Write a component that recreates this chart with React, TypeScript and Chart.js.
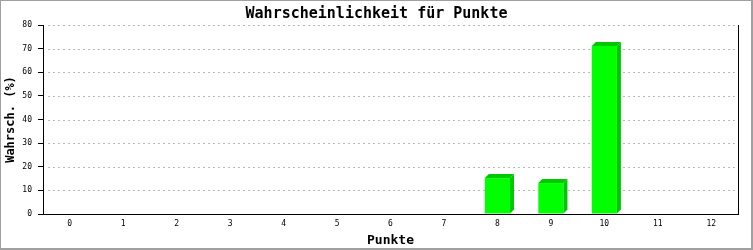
import React, { useEffect, useRef } from "react";
import { Chart, registerables } from "chart.js";

Chart.register(...registerables);

const categories = ["0", "1", "2", "3", "4", "5", "6", "7", "8", "9", "10", "11", "12"];
const probabilities = [0, 0, 0, 0, 0, 0, 0, 0, 15.2, 13.1, 71.1, 0, 0];
const yTicks = [10, 20, 30, 40, 50, 60, 70, 80];
const chartTitle = "Wahrscheinlichkeit für Punkte";
const xTitle = "Punkte";
const yTitle = "Wahrsch. (%)";

const MONO = "'DejaVu Sans Mono', 'Liberation Mono', monospace";

const framePlugin = {
  id: "frame",
  beforeDraw(chart: any) {
    const { ctx, width, height } = chart;
    ctx.save();
    ctx.fillStyle = "#ffffff";
    ctx.fillRect(0, 0, width, height);
    ctx.fillStyle = "#a0a0a0";
    ctx.fillRect(0, 0, width, 1);
    ctx.fillRect(0, 0, 1, height);
    ctx.fillRect(width - 2, 0, 2, height);
    ctx.fillRect(0, height - 2, width, 2);
    ctx.fillStyle = "#000000";
    ctx.font = `bold 15px ${MONO}`;
    ctx.textAlign = "center";
    ctx.textBaseline = "middle";
    ctx.fillText(chartTitle, width / 2, 14);
    ctx.restore();
  },
  beforeDatasetsDraw(chart: any) {
    const { ctx, chartArea } = chart;
    const y = chart.scales.y;
    ctx.save();
    ctx.strokeStyle = "#b8b8b8";
    ctx.lineWidth = 1;
    ctx.setLineDash([2, 3]);
    yTicks.forEach((v) => {
      const py = Math.round(y.getPixelForValue(v)) + 0.5;
      ctx.beginPath();
      ctx.moveTo(chartArea.left + 5, py);
      ctx.lineTo(chartArea.right, py);
      ctx.stroke();
    });
    ctx.restore();
  },
  afterDraw(chart: any) {
    const { ctx, chartArea } = chart;
    ctx.save();
    ctx.strokeStyle = "#000000";
    ctx.lineWidth = 1;
    ctx.beginPath();
    const x = Math.round(chartArea.right) + 0.5;
    ctx.moveTo(x, chartArea.top);
    ctx.lineTo(x, chartArea.bottom + 1);
    ctx.stroke();
    ctx.restore();
  },
};

const bar3dPlugin = {
  id: "bar3d",
  afterDatasetsDraw(chart: any) {
    const { ctx } = chart;
    const meta = chart.getDatasetMeta(0);
    const d = 4;
    ctx.save();
    ctx.fillStyle = "#00c800";
    meta.data.forEach((el: any, i: number) => {
      if (!probabilities[i]) return;
      const p = el.getProps(["x", "y", "base", "width"], true);
      const left = p.x - p.width / 2;
      const right = p.x + p.width / 2;
      ctx.beginPath();
      ctx.moveTo(right, p.y);
      ctx.lineTo(right + d, p.y - d);
      ctx.lineTo(right + d, p.base - d);
      ctx.lineTo(right, p.base);
      ctx.closePath();
      ctx.fill();
      ctx.beginPath();
      ctx.moveTo(left, p.y);
      ctx.lineTo(left + d, p.y - d);
      ctx.lineTo(right + d, p.y - d);
      ctx.lineTo(right, p.y);
      ctx.closePath();
      ctx.fill();
    });
    ctx.restore();
  },
};

export default function App() {
  const ref = useRef<HTMLCanvasElement>(null);
  useEffect(() => {
    document.body.style.margin = "0";
    const chart = new Chart(ref.current as HTMLCanvasElement, {
      type: "bar",
      data: {
        labels: categories,
        datasets: [
          {
            data: probabilities,
            backgroundColor: "#00ff00",
            borderWidth: 0,
            barPercentage: 0.47,
            categoryPercentage: 1,
          },
        ],
      },
      options: {
        animation: false,
        responsive: false,
        layout: { padding: { left: 0, right: 15, top: 25, bottom: 0 } },
        plugins: {
          legend: { display: false },
          title: { display: false },
          tooltip: { enabled: false },
        },
        scales: {
          x: {
            afterFit: (s: any) => {
              s.height = 36;
            },
            grid: { display: false, drawTicks: false },
            border: { display: true, color: "#000000", width: 1 },
            ticks: {
              color: "#000000",
              padding: 5,
              font: { family: MONO, size: 8 },
              maxRotation: 0,
            },
            title: {
              display: true,
              text: xTitle,
              color: "#000000",
              font: { family: MONO, size: 13, weight: "bold" },
              padding: { top: 0, bottom: 2 },
            },
          },
          y: {
            min: 0,
            max: 80,
            afterFit: (s: any) => {
              s.width = 43;
            },
            ticks: {
              stepSize: 10,
              color: "#000000",
              padding: 6,
              font: { family: MONO, size: 8 },
            },
            grid: {
              drawOnChartArea: false,
              color: "#000000",
              tickColor: "#000000",
              tickLength: 5,
              lineWidth: 1,
            },
            border: { display: true, color: "#000000", width: 1 },
            title: {
              display: true,
              text: yTitle,
              color: "#000000",
              font: { family: MONO, size: 12, weight: "bold" },
              padding: { top: 4, bottom: 0 },
            },
          },
        },
      },
      plugins: [framePlugin, bar3dPlugin],
    } as any);
    return () => chart.destroy();
  }, []);
  return <canvas ref={ref} width={753} height={250} style={{ display: "block" }} />;
}
